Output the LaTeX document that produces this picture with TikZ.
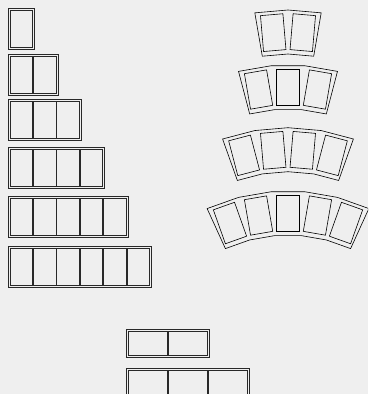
\documentclass[tikz,border=0pt]{standalone}
\usepackage{xcolor}
\definecolor{pagegray}{RGB}{239,239,239}
\definecolor{boxline}{RGB}{40,40,40}
\usepackage{tikz}
\usetikzlibrary{
    calc,
    fit,
    positioning
}
\tikzset{
    lcell/.style  = {rectangle, draw=boxline, line width=0.9pt, inner sep=0pt,
                     outer sep=0pt, minimum width=22.6pt, minimum height=37pt},
    bcell/.style  = {lcell, minimum width=38.9pt, minimum height=24.3pt},
    rowframe/.style = {rectangle, draw=boxline, line width=0.9pt,
                     inner sep=2pt, outer sep=0pt},
    rcell/.style  = {rectangle, draw=black, line width=0.6pt, inner sep=0pt,
                     outer sep=0pt, minimum width=22.5pt, minimum height=36pt},
    arcframe/.style = {draw=black, line width=0.6pt, line join=miter}
}

\begin{document}
\begin{tikzpicture}[x=1pt, y=1pt]

% ===== Page =====
\useasboundingbox (0,0) rectangle (368,394);
\clip (0,0) rectangle (368,394);
\fill[pagegray] (0,0) rectangle (368,394);

% ===== Straight rows (left) =====
\foreach \n/\y in {1/365.2, 2/319.5, 3/274.2, 4/226.5, 5/177.5, 6/127.5} {
    \foreach \i in {1,...,\n}
        \node[lcell] (l\n-\i) at ({21.3+(\i-1)*23.4}, \y) {};
    \node[rowframe, fit=(l\n-1)(l\n-\n)] (l\n) {};
}

% ===== Curved rows (right) =====
\foreach \n/\cy in {2/189, 3/134, 4/71.3, 5/8} {
    \coordinate (c\n) at (288, \cy);
    \pgfmathsetmacro\half{\n*9.8/2}
    \draw[arcframe] ($(c\n)+(90+\half:195)$)
        \foreach \k in {1,...,\n} { -- ($(c\n)+({90+\half-\k*9.8}:195)$) }
        -- ($(c\n)+(90-\half:151)$)
        \foreach \k in {1,...,\n} { -- ($(c\n)+({90-\half+\k*9.8}:151)$) }
        -- cycle;
    \foreach \k in {1,...,\n}
        \node[rcell, rotate={\half-(\k-0.5)*9.8}] (r\n-\k)
            at ($(c\n)+({90+\half-(\k-0.5)*9.8}:173)$) {};
}

% ===== Lying rows (bottom) =====
\foreach \n/\y in {2/50.8, 3/11.5} {
    \foreach \i in {1,...,\n}
        \node[bcell] (b\n-\i) at ({148.2+(\i-1)*39.7}, \y) {};
    \node[rowframe, fit=(b\n-1)(b\n-\n)] (b\n) {};
}

\end{tikzpicture}
\end{document}
